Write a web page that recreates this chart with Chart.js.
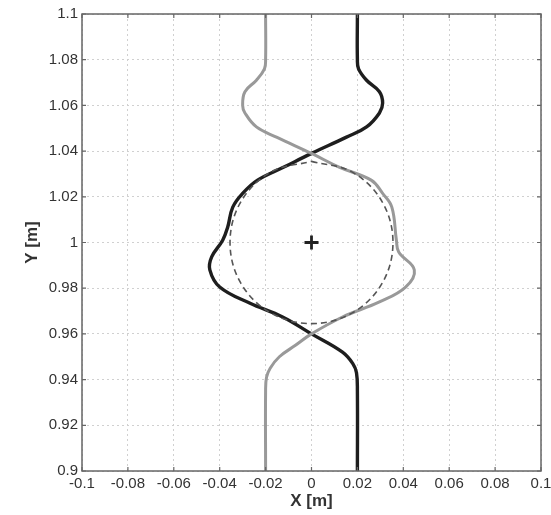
<!DOCTYPE html>
<html>
<head>
<meta charset="utf-8">
<script src="https://cdn.jsdelivr.net/npm/chart.js@4/dist/chart.umd.min.js"></script>
<style>
  html, body { margin: 0; padding: 0; background: #fff; }
  #wrap { width: 551px; height: 515px; }
</style>
</head>
<body>
<div id="wrap"><canvas id="myChart"></canvas></div>
<script>
// tick labels (MATLAB style)
const xTickLabels = ['-0.1', '-0.08', '-0.06', '-0.04', '-0.02', '0', '0.02', '0.04', '0.06', '0.08', '0.1'];
const yTickLabels = ['0.9', '0.92', '0.94', '0.96', '0.98', '1', '1.02', '1.04', '1.06', '1.08', '1.1'];

// dark path (top to bottom)
const darkY = [1.1, 1.08, 1.076, 1.071, 1.066, 1.061, 1.0567, 1.0506, 1.046, 1.039, 1.033, 1.0273, 1.0215, 1.0155, 1.0068, 1.001, 0.9937, 0.988, 0.9805, 0.9735, 0.9674, 0.96, 0.952, 0.947, 0.943, 0.935, 0.9];
const darkX = [0.02, 0.02, 0.0205, 0.024, 0.0296, 0.031, 0.0296, 0.024, 0.015, 0.0, -0.012, -0.0235, -0.030, -0.0343, -0.0365, -0.0387, -0.0435, -0.0443, -0.040, -0.027, -0.0126, 0.0, 0.0135, 0.018, 0.0196, 0.02, 0.02];

// grey path (top to bottom)
const greyY = [1.1, 1.08, 1.076, 1.071, 1.066, 1.06, 1.0567, 1.0506, 1.046, 1.039, 1.033, 1.0273, 1.0215, 1.0155, 1.001, 0.9958, 0.988, 0.9805, 0.974, 0.9674, 0.96, 0.955, 0.95, 0.945, 0.941, 0.935, 0.9];
const greyX = [-0.02, -0.02, -0.0205, -0.024, -0.029, -0.030, -0.029, -0.024, -0.015, 0.0, 0.012, 0.026, 0.031, 0.035, 0.037, 0.038, 0.0448, 0.041, 0.0296, 0.0135, 0.0, -0.007, -0.014, -0.018, -0.0196, -0.02, -0.02];

// dashed reference circle, read around its outline
const circleX = [0, 0.0178, 0.0308, 0.0355, 0.0308, 0.0178, 0, -0.0178, -0.0308, -0.0355, -0.0308, -0.0178, 0];
const circleY = [1.0355, 1.0308, 1.0178, 1.0, 0.9822, 0.9692, 0.9645, 0.9692, 0.9822, 1.0, 1.0178, 1.0308, 1.0355];

// centre marker
const centreX = [0];
const centreY = [1];

const zip = (xs, ys) => xs.map((x, i) => ({ x: x, y: ys[i] }));

const tickFont = { family: 'Liberation Sans', size: 15 };
const titleFont = { family: 'Liberation Sans', size: 17, weight: 'bold' };

// box round the plot area with small inward ticks, like a matlab axes
const boxPlugin = {
    id: 'box',
    afterDraw(chart) {
        const a = chart.chartArea;
        const c = chart.ctx;
        const sx = chart.scales.x;
        const sy = chart.scales.y;
        c.save();
        c.strokeStyle = '#666';
        c.lineWidth = 1.5;
        c.strokeRect(a.left, a.top, a.right - a.left, a.bottom - a.top);
        c.lineWidth = 1.2;
        c.beginPath();
        sx.ticks.forEach(t => {
            const px = sx.getPixelForValue(t.value);
            c.moveTo(px, a.bottom); c.lineTo(px, a.bottom - 4);
            c.moveTo(px, a.top); c.lineTo(px, a.top + 4);
        });
        sy.ticks.forEach(t => {
            const py = sy.getPixelForValue(t.value);
            c.moveTo(a.left, py); c.lineTo(a.left + 4, py);
            c.moveTo(a.right, py); c.lineTo(a.right - 4, py);
        });
        c.stroke();
        c.restore();
    }
};

const ctx = document.getElementById('myChart').getContext('2d');

const myChart = new Chart(ctx, {
    type: 'scatter',
    data: {
        datasets: [
            {
                label: 'circle',
                data: zip(circleX, circleY),
                showLine: true,
                borderColor: '#555',
                borderWidth: 1.6,
                borderDash: [6, 4],
                tension: 0.36,
                pointRadius: 0,
            },
            {
                label: 'grey',
                data: zip(greyX, greyY),
                showLine: true,
                borderColor: '#999',
                borderWidth: 3,
                tension: 0.4,
                pointRadius: 0,
            },
            {
                label: 'dark',
                data: zip(darkX, darkY),
                showLine: true,
                borderColor: '#1e1e1e',
                borderWidth: 3.4,
                tension: 0.4,
                pointRadius: 0,
            },
            {
                label: 'centre',
                data: zip(centreX, centreY),
                pointStyle: 'cross',
                pointRadius: 7,
                borderWidth: 2.8,
                borderColor: '#222',
            },
        ],
    },
    options: {
        responsive: true,
        maintainAspectRatio: false,
        animation: false,
        layout: {
            padding: { top: 14, right: 10, left: 0, bottom: 0 },
        },
        scales: {
            x: {
                type: 'linear',
                min: -0.1,
                max: 0.1,
                afterBuildTicks: (scale) => {
                    scale.ticks = xTickLabels.map(v => ({ value: parseFloat(v) }));
                },
                afterFit: (scale) => {
                    scale.height = 44;
                    scale.paddingLeft = 0;
                    scale.paddingRight = 0;
                },
                ticks: {
                    color: '#333',
                    font: tickFont,
                    padding: 4,
                    maxRotation: 0,
                    autoSkip: false,
                    callback: (v, i) => xTickLabels[i],
                },
                grid: {
                    color: '#d0d0d0',
                    lineWidth: 1,
                    drawTicks: false,
                },
                border: { display: false, dash: [2, 3] },
                title: {
                    display: true,
                    text: 'X [m]',
                    color: '#333',
                    font: titleFont,
                    padding: { top: 0, bottom: 3 },
                },
            },
            y: {
                type: 'linear',
                min: 0.9,
                max: 1.1,
                afterBuildTicks: (scale) => {
                    scale.ticks = yTickLabels.map(v => ({ value: parseFloat(v) }));
                },
                afterFit: (scale) => { scale.width = 82; },
                ticks: {
                    color: '#333',
                    font: tickFont,
                    padding: 4,
                    autoSkip: false,
                    callback: (v, i) => yTickLabels[i],
                },
                grid: {
                    color: '#d0d0d0',
                    lineWidth: 1,
                    drawTicks: false,
                },
                border: { display: false, dash: [2, 3] },
                title: {
                    display: true,
                    text: 'Y [m]',
                    color: '#333',
                    font: titleFont,
                    padding: { top: 22, bottom: 0 },
                },
            },
        },
        plugins: {
            legend: { display: false },
            tooltip: { enabled: false },
        },
    },
    plugins: [boxPlugin],
});
</script>
</body>
</html>
